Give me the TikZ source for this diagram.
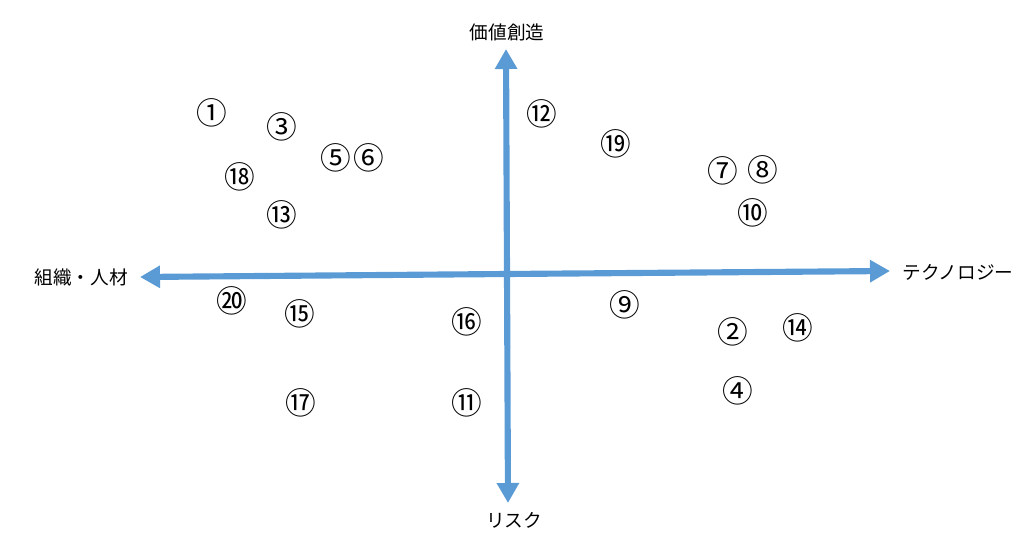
\documentclass[tikz,border=0pt]{standalone}
\usepackage{fontspec}
\setmainfont{Noto Sans CJK JP}
\usetikzlibrary{arrows.meta}
\definecolor{axisblue}{HTML}{5B9BD5}
\tikzset{
  axisline/.style={draw=axisblue, line width=4.6pt, -{Triangle[length=15pt,width=16pt]}},
  lbl/.style={font=\fontsize{14pt}{16pt}\selectfont, inner sep=0pt},
  num/.style={font=\fontsize{23pt}{25pt}\selectfont, inner sep=0pt}
}
\begin{document}
\begin{tikzpicture}[x=0.75pt,y=-0.75pt]
\useasboundingbox (0,0) rectangle (1035,545);
% axis ends
\coordinate (C) at (507,274);
\coordinate (N) at (506,49);
\coordinate (S) at (508,503);
\coordinate (W) at (140,277);
\coordinate (E) at (890,271);
\draw[axisline] (C) -- (N);
\draw[axisline] (C) -- (S);
\draw[axisline] (C) -- (W);
\draw[axisline] (C) -- (E);
% axis labels
\node[lbl] (top) at (507,32) {価値創造};
\node[lbl] (bottom) at (514,520) {リスク};
\node[lbl] (left) at (81,277) {組織・人材};
\node[lbl] (right) at (958,272) {テクノロジー};
% items
\node[num] (n1) at (212,113) {①};
\node[num] (n2) at (733,332) {②};
\node[num] (n3) at (282,127) {③};
\node[num] (n4) at (738,391) {④};
\node[num] (n5) at (336,158) {⑤};
\node[num] (n6) at (369,158) {⑥};
\node[num] (n7) at (723,171) {⑦};
\node[num] (n8) at (763,170) {⑧};
\node[num] (n9) at (625,305) {⑨};
\node[num] (n10) at (753,213) {⑩};
\node[num] (n11) at (467,403) {⑪};
\node[num] (n12) at (542,114) {⑫};
\node[num] (n13) at (282,215) {⑬};
\node[num] (n14) at (798,328) {⑭};
\node[num] (n15) at (300,314) {⑮};
\node[num] (n16) at (467,322) {⑯};
\node[num] (n17) at (301,403) {⑰};
\node[num] (n18) at (240,177) {⑱};
\node[num] (n19) at (616,144) {⑲};
\node[num] (n20) at (232,301) {⑳};
\end{tikzpicture}
\end{document}
